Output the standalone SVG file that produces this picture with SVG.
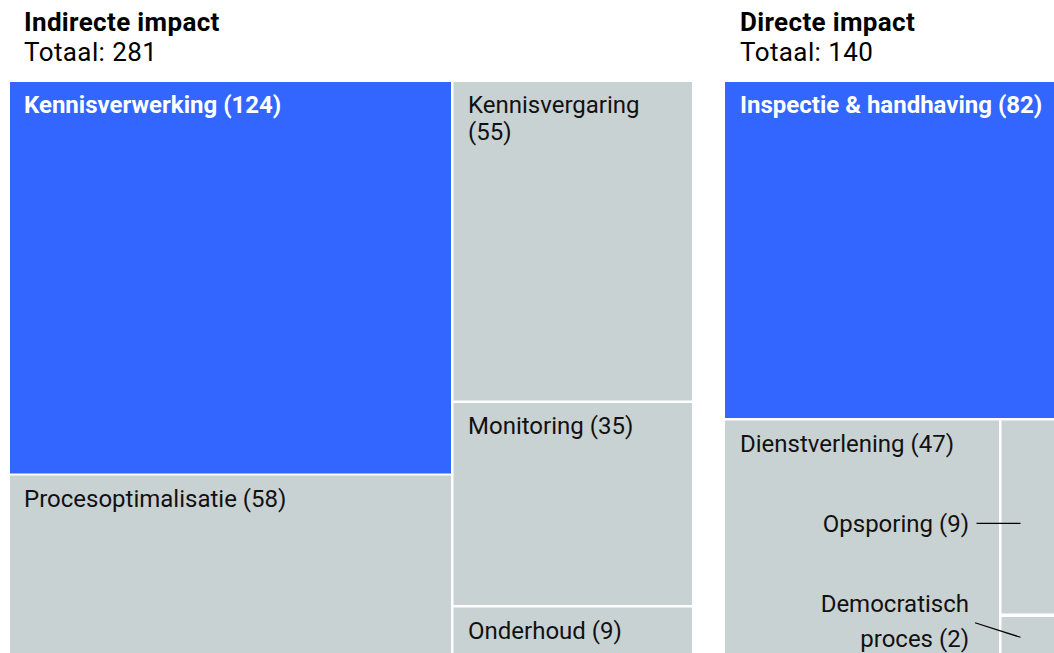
<svg xmlns="http://www.w3.org/2000/svg" width="1054" height="653" viewBox="0 0 1054 653">
<style>
.blue{fill:#3366FF}
.grey{fill:#C9D2D3}
.t{font-family:Roboto,"Liberation Sans",sans-serif;font-size:24px;fill:#111}
.tw{font-family:Roboto,"Liberation Sans",sans-serif;font-size:24px;font-weight:bold;fill:#fff}
.h{font-family:Roboto,"Liberation Sans",sans-serif;font-size:26px;font-weight:bold;fill:#000;letter-spacing:0.35px}
.s{font-family:Roboto,"Liberation Sans",sans-serif;font-size:26px;fill:#000;letter-spacing:0.4px}
.end{text-anchor:end}
.conn{stroke:#000;stroke-width:1.2;fill:none}
</style>
<rect width="1054" height="653" fill="#fff"/>
<g id="title-indirect">
<text class="h" x="24" y="31">Indirecte impact</text>
<text class="s" x="24" y="61">Totaal: 281</text>
</g>
<g id="title-direct">
<text class="h" x="740" y="31">Directe impact</text>
<text class="s" x="740" y="61">Totaal: 140</text>
</g>
<g id="kennisverwerking">
<rect class="blue" x="10" y="82" width="441" height="391.5"/>
<text class="tw" x="24" y="113">Kennisverwerking (124)</text>
</g>
<g id="procesoptimalisatie">
<rect class="grey" x="10" y="475.5" width="441" height="177.5"/>
<text class="t" x="24" y="507">Procesoptimalisatie (58)</text>
</g>
<g id="kennisvergaring">
<rect class="grey" x="453.5" y="82" width="238.5" height="318.5"/>
<text class="t" x="468" y="113">Kennisvergaring</text>
<text class="t" x="468" y="140">(55)</text>
</g>
<g id="monitoring">
<rect class="grey" x="453.5" y="403" width="238.5" height="202"/>
<text class="t" x="468" y="434">Monitoring (35)</text>
</g>
<g id="onderhoud">
<rect class="grey" x="453.5" y="607.5" width="238.5" height="45.5"/>
<text class="t" x="468" y="639">Onderhoud (9)</text>
</g>
<g id="inspectie">
<rect class="blue" x="725" y="82" width="329" height="336"/>
<text class="tw" x="740" y="113">Inspectie &amp; handhaving (82)</text>
</g>
<g id="dienstverlening">
<rect class="grey" x="725" y="420.5" width="274" height="232.5"/>
<text class="t" x="740" y="452">Dienstverlening (47)</text>
</g>
<g id="opsporing">
<rect class="grey" x="1001.5" y="420.5" width="52.5" height="193"/>
<text class="t end" x="969" y="532">Opsporing (9)</text>
</g>
<g id="democratisch">
<rect class="grey" x="1001.5" y="617" width="52.5" height="36"/>
<text class="t end" x="969" y="612">Democratisch</text>
<text class="t end" x="969" y="647">proces (2)</text>
</g>
<g id="connectors">
<line class="conn" x1="976.5" y1="523.3" x2="1020.5" y2="523.3"/>
<line class="conn" x1="975" y1="622.7" x2="1020.5" y2="637.3"/>
</g>
</svg>
